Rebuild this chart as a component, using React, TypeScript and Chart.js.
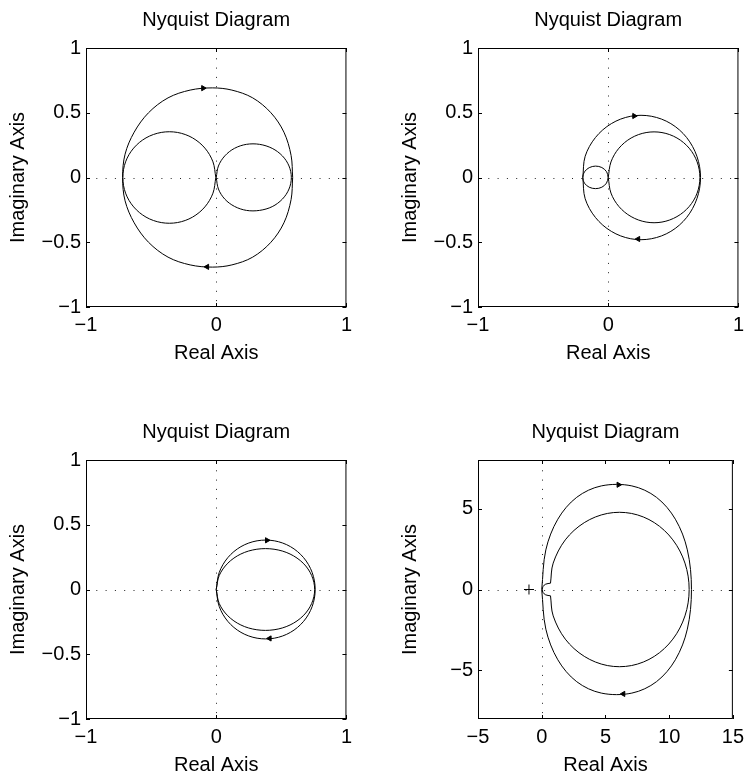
import React, { useEffect, useRef } from 'react';
import { Chart, registerables } from 'chart.js';

Chart.register(...registerables);

type P = [number, number];
type Arrow = [number, number, number]; // x, y, rotation (deg)

// ---------- text ----------
const titleText = 'Nyquist Diagram';
const xAxisTitle = 'Real Axis';
const yAxisTitle = 'Imaginary Axis';

// ---------- ticks / ranges ----------
const unitRange: P = [-1, 1];
const unitXTicks = [-1, 0, 1];
const unitYTicks = [-1, -0.5, 0, 0.5, 1];
const plot4XRange: P = [-5, 15];
const plot4YRange: P = [-8, 8];
const plot4XTicks = [-5, 0, 5, 10, 15];
const plot4YTicks = [-5, 0, 5];

// ---------- plot 1 (top-left) ----------
const nyq1Outer: P[] = [
  [0.587, 0], [0.575, 0.17], [0.52, 0.35], [0.42, 0.5], [0.28, 0.615], [0.12, 0.675],
  [-0.03, 0.692], [-0.2, 0.675], [-0.37, 0.615], [-0.52, 0.5], [-0.63, 0.35], [-0.7, 0.18],
  [-0.719, 0], [-0.7, -0.18], [-0.63, -0.35], [-0.52, -0.5], [-0.37, -0.615], [-0.2, -0.675],
  [-0.03, -0.692], [0.12, -0.675], [0.28, -0.615], [0.42, -0.5], [0.52, -0.35], [0.575, -0.17],
  [0.587, 0],
];
const nyq1LeftLoop: P[] = [
  [-0.003, 0], [-0.025, 0.121], [-0.087, 0.227], [-0.182, 0.306], [-0.298, 0.348],
  [-0.422, 0.348], [-0.539, 0.306], [-0.634, 0.227], [-0.696, 0.121], [-0.717, 0],
  [-0.696, -0.121], [-0.634, -0.227], [-0.539, -0.306], [-0.422, -0.348], [-0.298, -0.348],
  [-0.182, -0.306], [-0.087, -0.227], [-0.025, -0.121], [-0.003, 0],
];
const nyq1RightLoop: P[] = [
  [0, 0], [0.017, 0.089], [0.066, 0.167], [0.14, 0.225], [0.232, 0.256], [0.333, 0.256],
  [0.43, 0.225], [0.508, 0.167], [0.559, 0.089], [0.577, 0], [0.559, -0.089], [0.508, -0.167],
  [0.43, -0.225], [0.333, -0.254], [0.232, -0.254], [0.14, -0.223], [0.066, -0.167],
  [0.017, -0.089], [0, 0],
];
const nyq1Arrows: Arrow[] = [[-0.1, 0.69, 90], [-0.07, -0.69, -90]];

// ---------- plot 2 (top-right) ----------
const nyq2Outer: P[] = [
  [-0.195, 0], [-0.177, 0.164], [-0.098, 0.309], [0.024, 0.416], [0.173, 0.473], [0.331, 0.473],
  [0.481, 0.416], [0.602, 0.309], [0.681, 0.164], [0.709, 0], [0.681, -0.164], [0.602, -0.309],
  [0.481, -0.416], [0.331, -0.473], [0.173, -0.473], [0.024, -0.416], [-0.098, -0.309],
  [-0.177, -0.164], [-0.195, 0],
];
const nyq2SmallLoop: P[] = [
  [0, 0], [-0.013, 0.045], [-0.049, 0.077], [-0.0975, 0.088], [-0.146, 0.076], [-0.182, 0.044],
  [-0.195, 0], [-0.182, -0.044], [-0.146, -0.075], [-0.0975, -0.086], [-0.049, -0.075],
  [-0.013, -0.043], [0, 0],
];
const nyq2BigLoop: P[] = [
  [0, 0], [0.021, 0.12], [0.082, 0.226], [0.176, 0.305], [0.291, 0.347], [0.413, 0.347],
  [0.528, 0.305], [0.622, 0.226], [0.683, 0.12], [0.704, 0], [0.683, -0.12], [0.622, -0.224],
  [0.528, -0.302], [0.413, -0.344], [0.291, -0.344], [0.176, -0.302], [0.082, -0.224],
  [0.021, -0.12], [0, 0],
];
const nyq2Arrows: Arrow[] = [[0.2, 0.475, 90], [0.23, -0.475, -90]];

// ---------- plot 3 (bottom-left) ----------
const nyq3Outer: P[] = [
  [0, 0], [0.023, 0.131], [0.089, 0.246], [0.19, 0.331], [0.314, 0.376], [0.446, 0.376],
  [0.57, 0.331], [0.671, 0.246], [0.737, 0.131], [0.76, 0], [0.737, -0.131], [0.671, -0.246],
  [0.57, -0.331], [0.446, -0.376], [0.314, -0.376], [0.19, -0.331], [0.089, -0.246],
  [0.023, -0.131], [0, 0],
];
const nyq3Inner: P[] = [
  [0, 0], [0.023, 0.108], [0.089, 0.203], [0.189, 0.274], [0.312, 0.311], [0.444, 0.311],
  [0.567, 0.274], [0.668, 0.203], [0.733, 0.108], [0.756, 0], [0.733, -0.108], [0.668, -0.203],
  [0.567, -0.274], [0.444, -0.311], [0.312, -0.311], [0.189, -0.274], [0.089, -0.203],
  [0.023, -0.108], [0, 0],
];
const nyq3Arrows: Arrow[] = [[0.39, 0.38, 90], [0.41, -0.378, -90]];

// ---------- plot 4 (bottom-right) ----------
const nyq4Outer: P[] = [
  [0, 0], [0.323, 2.447], [1.263, 4.342], [2.746, 5.695], [4.679, 6.4], [7.071, 6.4],
  [9.004, 5.695], [10.487, 4.342], [11.427, 2.447], [11.75, 0], [11.427, -2.447], [10.487, -4.342],
  [9.004, -5.695], [7.071, -6.4], [4.679, -6.4], [2.746, -5.695], [1.263, -4.342],
  [0.323, -2.447], [0, 0],
];
const nyq4Inner: P[] = [
  [0.69, 0.39], [0.9, 1.631], [1.85, 3.066], [3.34, 4.131], [5.15, 4.698], [7.05, 4.698],
  [8.835, 4.131], [10.29, 3.066], [11.24, 1.631], [11.57, 0], [11.24, -1.631], [10.29, -3.066],
  [8.835, -4.131], [7.05, -4.698], [5.15, -4.698], [3.34, -4.131], [1.85, -3.066],
  [0.9, -1.631], [0.69, -0.39],
];
const nyq4Notch: P[] = [
  [0.69, -0.39], [0.31, -0.33], [0.1, -0.18], [0.05, 0], [0.1, 0.18], [0.31, 0.33], [0.69, 0.39],
];
const nyq4Arrows: Arrow[] = [[6.03, 6.47, 90], [6.4, -6.45, -90]];
const nyq4Critical: P[] = [[-1, 0]];

// ---------- layout ----------
const FONT = "'Liberation Sans', Arial, Helvetica, sans-serif";
const FS = 20;
const CW = 358;
const CH = 366;

interface Spec {
  left: number;
  top: number;
  xr: P;
  yr: P;
  xt: number[];
  yt: number[];
  loops: P[][];
  arrows: Arrow[];
  cross?: P[];
}

const specs: Spec[] = [
  { left: 0, top: 0, xr: unitRange, yr: unitRange, xt: unitXTicks, yt: unitYTicks, loops: [nyq1Outer, nyq1LeftLoop, nyq1RightLoop], arrows: nyq1Arrows },
  { left: 392, top: 0, xr: unitRange, yr: unitRange, xt: unitXTicks, yt: unitYTicks, loops: [nyq2Outer, nyq2SmallLoop, nyq2BigLoop], arrows: nyq2Arrows },
  { left: 0, top: 412, xr: unitRange, yr: unitRange, xt: unitXTicks, yt: unitYTicks, loops: [nyq3Outer, nyq3Inner], arrows: nyq3Arrows },
  { left: 392, top: 412, xr: plot4XRange, yr: plot4YRange, xt: plot4XTicks, yt: plot4YTicks, loops: [nyq4Outer, nyq4Inner, nyq4Notch], arrows: nyq4Arrows, cross: nyq4Critical },
];

const fmt = (v: number) => (v < 0 ? '\u2212' : '') + String(Math.abs(v));

function makeFramePlugin(xt: number[], yt: number[]) {
  return {
    id: 'matlabFrame',
    beforeDatasetsDraw(chart: any) {
      const { ctx, chartArea: a, scales } = chart;
      const x0 = Math.round(scales.x.getPixelForValue(0)) + 0.5;
      const y0 = Math.round(scales.y.getPixelForValue(0)) + 0.5;
      ctx.save();
      ctx.strokeStyle = '#222';
      ctx.lineWidth = 1;
      ctx.setLineDash([1, 8.3]);
      ctx.beginPath();
      ctx.moveTo(x0, a.top + 1);
      ctx.lineTo(x0, a.bottom - 1);
      ctx.stroke();
      ctx.beginPath();
      ctx.moveTo(a.left + 1, y0);
      ctx.lineTo(a.right - 1, y0);
      ctx.stroke();
      ctx.restore();
    },
    afterDraw(chart: any) {
      const { ctx, chartArea: a, scales } = chart;
      ctx.save();
      ctx.strokeStyle = '#000';
      ctx.lineWidth = 1;
      ctx.setLineDash([]);
      ctx.strokeRect(a.left + 0.5, a.top + 0.5, a.right - a.left - 1, a.bottom - a.top - 1);
      const TL = 4;
      ctx.beginPath();
      xt.forEach((v) => {
        const p = Math.round(scales.x.getPixelForValue(v)) + 0.5;
        ctx.moveTo(p, a.bottom);
        ctx.lineTo(p, a.bottom - TL);
        ctx.moveTo(p, a.top);
        ctx.lineTo(p, a.top + TL);
      });
      yt.forEach((v) => {
        const p = Math.round(scales.y.getPixelForValue(v)) + 0.5;
        ctx.moveTo(a.left, p);
        ctx.lineTo(a.left + TL, p);
        ctx.moveTo(a.right, p);
        ctx.lineTo(a.right - TL, p);
      });
      ctx.stroke();
      ctx.restore();
    },
  };
}

function buildConfig(s: Spec): any {
  const datasets: any[] = [];
  datasets.push({
    data: s.arrows.map(([x, y]) => ({ x, y })),
    showLine: false,
    pointStyle: 'triangle',
    pointRadius: 3,
    pointRotation: s.arrows.map((a) => a[2]),
    pointBackgroundColor: '#000',
    pointBorderColor: '#000',
    pointBorderWidth: 1,
  });
  if (s.cross) {
    datasets.push({
      data: s.cross.map(([x, y]) => ({ x, y })),
      showLine: false,
      pointStyle: 'cross',
      pointRadius: 5,
      pointBorderColor: '#000',
      pointBorderWidth: 1,
    });
  }
  s.loops.forEach((loop) => {
    datasets.push({
      data: loop.map(([x, y]) => ({ x, y })),
      showLine: true,
      borderColor: '#000',
      borderWidth: 1,
      pointRadius: 0,
      tension: 0.34,
      fill: false,
    });
  });
  const font = { family: FONT, size: FS };
  return {
    type: 'scatter',
    data: { datasets },
    options: {
      responsive: false,
      animation: false,
      events: [],
      layout: { padding: { left: 0, right: 10, top: 0, bottom: 0 } },
      plugins: {
        legend: { display: false },
        tooltip: { enabled: false },
        title: {
          display: true,
          text: titleText,
          fullSize: false,
          color: '#000',
          font: { family: FONT, size: FS, weight: 'normal' },
          padding: { top: 8.3, bottom: 15.7 },
        },
      },
      scales: {
        x: {
          type: 'linear',
          position: 'bottom',
          min: s.xr[0],
          max: s.xr[1],
          afterBuildTicks: (sc: any) => {
            sc.ticks = s.xt.map((v) => ({ value: v }));
          },
          afterFit: (sc: any) => {
            sc.height = 59;
          },
          ticks: {
            autoSkip: false,
            maxRotation: 0,
            minRotation: 0,
            padding: 6,
            color: '#000',
            font,
            callback: (v: number) => fmt(v),
          },
          grid: { display: false, drawTicks: false },
          border: { display: false },
          title: { display: true, text: xAxisTitle, color: '#000', font, padding: { top: 0, bottom: 0.5 } },
        },
        y: {
          type: 'linear',
          position: 'left',
          min: s.yr[0],
          max: s.yr[1],
          afterBuildTicks: (sc: any) => {
            sc.ticks = s.yt.map((v) => ({ value: v }));
          },
          afterFit: (sc: any) => {
            sc.width = 86;
          },
          ticks: {
            autoSkip: false,
            padding: 5,
            color: '#000',
            font,
            callback: (v: number) => fmt(v),
          },
          grid: { display: false, drawTicks: false },
          border: { display: false },
          title: { display: true, text: yAxisTitle, color: '#000', font, padding: { top: 6.5, bottom: 0 } },
        },
      },
    },
    plugins: [makeFramePlugin(s.xt, s.yt)],
  };
}

function Panel({ spec }: { spec: Spec }) {
  const ref = useRef<HTMLCanvasElement>(null);
  useEffect(() => {
    if (!ref.current) return;
    const chart = new Chart(ref.current, buildConfig(spec));
    return () => chart.destroy();
  }, [spec]);
  return (
    <canvas
      ref={ref}
      width={CW}
      height={CH}
      style={{ position: 'absolute', left: spec.left, top: spec.top, width: CW, height: CH, display: 'block' }}
    />
  );
}

export default function App() {
  return (
    <div style={{ position: 'absolute', left: 0, top: 0, width: 750, height: 778, overflow: 'hidden', background: '#fff' }}>
      {specs.map((s, i) => (
        <Panel key={i} spec={s} />
      ))}
    </div>
  );
}
